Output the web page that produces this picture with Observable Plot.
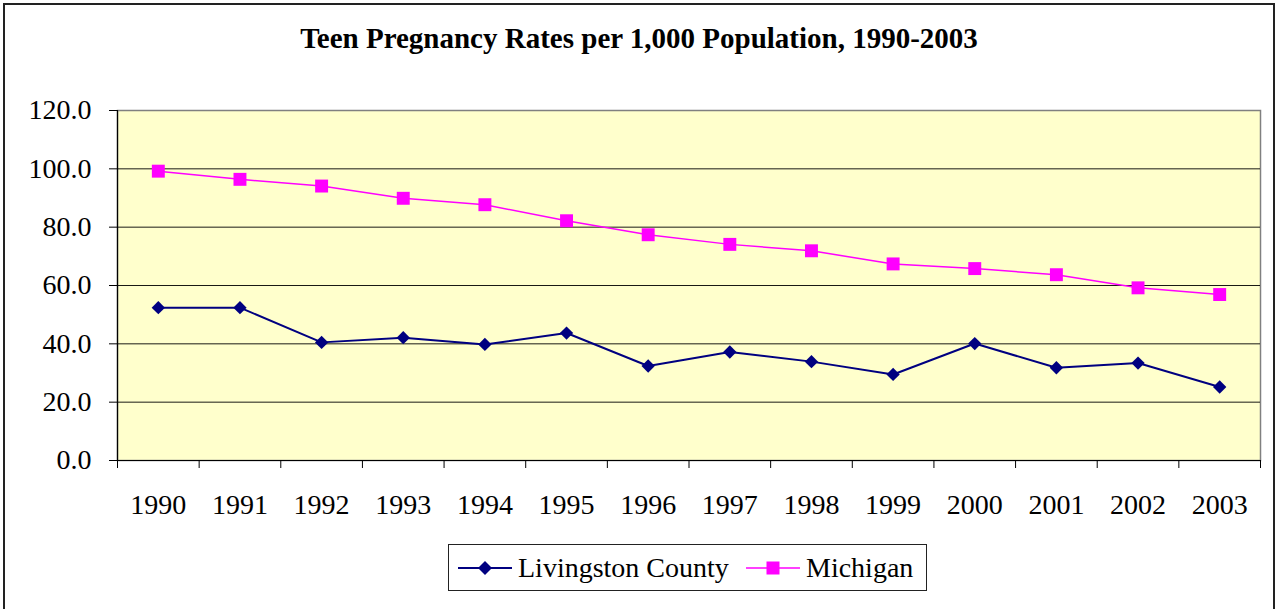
<!DOCTYPE html>
<html>
<head>
<meta charset="utf-8">
<script src="https://cdn.jsdelivr.net/npm/d3@7"></script>
<script src="https://cdn.jsdelivr.net/npm/@observablehq/plot@0.6"></script>
<style>
  html, body { margin: 0; padding: 0; background: #fff; }
  #wrap { position: relative; width: 1278px; height: 609px; overflow: hidden; font-family: "Liberation Serif", "Times New Roman", serif; color: #000; }
  #border { position: absolute; left: 3px; top: 3px; width: 1272px; height: 640px; border: 2px solid #222; box-sizing: border-box; }
  #title { position: absolute; left: 0; width: 1278px; top: 24px; text-align: center; font-family: "Liberation Serif", "Times New Roman", serif; font-weight: 700; font-size: 29px; line-height: 1; }
  #chart { position: absolute; left: 0; top: 0; }
  #legend { position: absolute; left: 448px; top: 544px; width: 479px; height: 47px; border: 1px solid #222; box-sizing: border-box; background: #fff; }
  .lg { position: absolute; top: 0; height: 45px; display: flex; align-items: center; font-size: 28px; white-space: nowrap; }
  .lg svg { margin-right: 6px; }
</style>
</head>
<body>
<div id="wrap">
  <div id="border"></div>
  <div id="title">Teen Pregnancy Rates per 1,000 Population, 1990-2003</div>
  <div id="chart"></div>
  <div id="legend"></div>
</div>
<script>
const years = [1990, 1991, 1992, 1993, 1994, 1995, 1996, 1997, 1998, 1999, 2000, 2001, 2002, 2003];
const livingston = [52.4, 52.4, 40.5, 42.1, 39.8, 43.7, 32.4, 37.2, 33.9, 29.5, 40.1, 31.8, 33.4, 25.2];
const michigan = [99.2, 96.4, 94.1, 89.9, 87.7, 82.2, 77.4, 74.1, 71.9, 67.4, 65.8, 63.7, 59.2, 56.9];
const seriesNames = ["Livingston County", "Michigan"];
const seriesColors = ["#000080", "#FF00FF"];
const yTicks = [0, 20, 40, 60, 80, 100, 120];

const rowsL = years.map((y, i) => ({year: y, value: livingston[i]}));
const rowsM = years.map((y, i) => ({year: y, value: michigan[i]}));
const boundaries = [...years.map(y => y - 0.5), years[years.length - 1] + 0.5];
const xDomain = [years[0] - 0.5, years[years.length - 1] + 0.5];

const chart = Plot.plot({
  width: 1278,
  height: 530,
  marginTop: 110,
  marginBottom: 70,
  marginLeft: 117,
  marginRight: 18,
  style: {fontFamily: '"Liberation Serif", "Times New Roman", serif', color: "#000", background: "transparent", overflow: "visible"},
  x: {domain: xDomain, axis: null},
  y: {domain: [0, 120], axis: null},
  marks: [
    Plot.frame({fill: "#FFFFCC", stroke: "#808080", strokeWidth: 1.5}),
    Plot.gridY(yTicks.filter(t => t > 0 && t < 120), {stroke: "#000", strokeOpacity: 0.9, strokeWidth: 1}),
    Plot.ruleX([xDomain[0]], {stroke: "#000", strokeWidth: 1.2}),
    Plot.ruleY([0], {stroke: "#000", strokeWidth: 1.2}),
    Plot.axisY({ticks: yTicks, tickFormat: d => d.toFixed(1), tickSize: 8, tickPadding: 18, fontSize: 28, label: null}),
    Plot.axisX({ticks: years, tickSize: 0, tickPadding: 34, tickFormat: d => String(d), fontSize: 28, label: null}),
    Plot.axisX({ticks: boundaries, tickSize: 8, tickFormat: () => "", label: null}),
    Plot.lineY(rowsM, {x: "year", y: "value", stroke: seriesColors[1], strokeWidth: 1.5}),
    Plot.lineY(rowsL, {x: "year", y: "value", stroke: seriesColors[0], strokeWidth: 2}),
    Plot.dot(rowsM, {x: "year", y: "value", symbol: "square", r: 7.3, fill: seriesColors[1], stroke: "none"}),
    Plot.dot(rowsL, {x: "year", y: "value", symbol: "diamond2", r: 6, fill: seriesColors[0], stroke: "none"})
  ]
});
document.getElementById("chart").appendChild(chart);

// legend
const legend = document.getElementById("legend");
const lgPos = [9, 297];
seriesNames.forEach((name, i) => {
  const item = document.createElement("div");
  item.className = "lg";
  item.style.left = lgPos[i] + "px";
  const c = seriesColors[i];
  const marker = i === 0
    ? `<path d="M27,16 L34,23 L27,30 L20,23 Z" fill="${c}"/>`
    : `<rect x="20.5" y="16.5" width="13" height="13" fill="${c}"/>`;
  item.innerHTML = `<svg width="54" height="46" viewBox="0 0 54 46"><line x1="0" x2="54" y1="23" y2="23" stroke="${c}" stroke-width="${i === 0 ? 2 : 1.5}"/>${marker}</svg><span>${name}</span>`;
  legend.appendChild(item);
});
</script>
</body>
</html>
